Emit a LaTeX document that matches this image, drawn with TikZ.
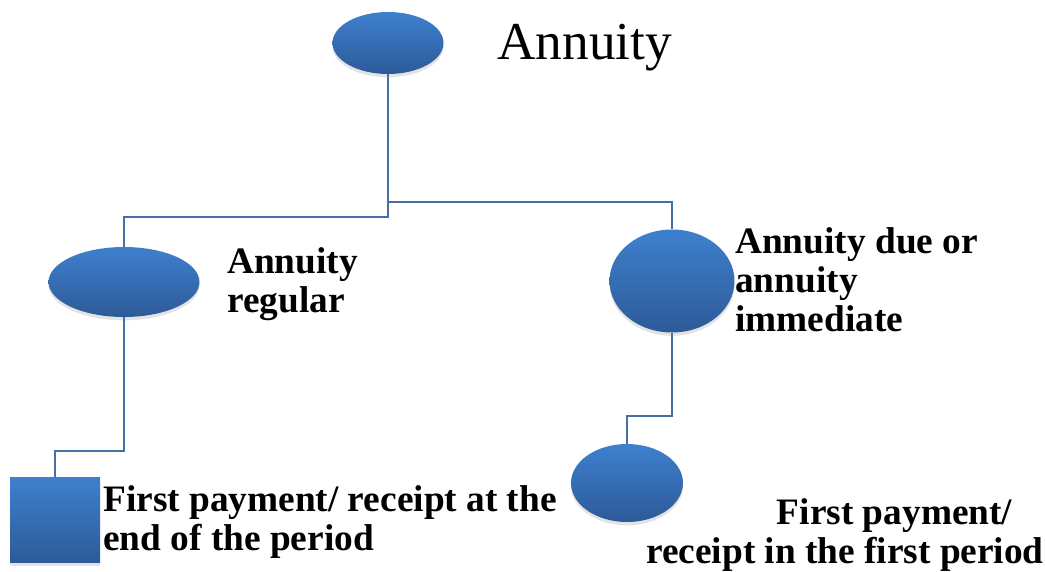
\documentclass[tikz,border=0pt]{standalone}
\usepackage{fontspec}
\setmainfont{Liberation Serif}
\usetikzlibrary{positioning, shapes.geometric, shadows}
\definecolor{blobtop}{RGB}{62,128,206}
\definecolor{blobbot}{RGB}{45,90,152}
\definecolor{wire}{RGB}{72,110,166}

\begin{document}
\begin{tikzpicture}[x=0.75pt, y=-0.75pt,
    blob/.style={ellipse, inner sep=0pt, draw=none,
        top color=blobtop, bottom color=blobbot,
        drop shadow={opacity=0.22, shadow xshift=0pt, shadow yshift=-2.5pt}},
    tile/.style={rectangle, inner sep=0pt, draw=none,
        top color=blobtop, bottom color=blobbot,
        drop shadow={opacity=0.22, shadow xshift=0pt, shadow yshift=-2.5pt}},
    link/.style={draw=wire, line width=1.3pt},
    lbl/.style={font=\fontsize{28}{29}\selectfont\bfseries, align=left, inner sep=0pt, anchor=base west}]

    \useasboundingbox (0,0) rectangle (1045,571);

    % shapes
    \node[blob, minimum width=83.25pt, minimum height=46.5pt] (annuity) at (388,43) {};
    \node[blob, minimum width=113.25pt, minimum height=52.5pt] (regular) at (124,282) {};
    \node[blob, minimum width=93.75pt, minimum height=77.25pt] (due) at (672,281) {};
    \node[tile, minimum width=67.5pt, minimum height=63.75pt] (endbox) at (55,520) {};
    \node[blob, minimum width=84pt, minimum height=58.5pt] (firstblob) at (627,483) {};

    % labels (base = last line)
    \node[font=\fontsize{40}{42}\selectfont, inner sep=0pt, anchor=base west] (annuitytxt) at (497,59) {Annuity};
    \node[lbl] (regulartxt) at (227,312) {Annuity\\regular};
    \node[lbl] (duetxt) at (735,331) {Annuity due or\\annuity\\immediate};
    \node[lbl] (endtxt) at (103,550) {First payment/ receipt at the\\end of the period};
    \node[lbl] (firsttxt) at (646,563) {\hspace*{98pt}First payment/\\receipt in the first period};

    % connectors
    \coordinate (fork) at (388,202);
    \draw[link] (annuity.south) -- (annuity.south |- 0,217) -| (regular.north);
    \draw[link] (fork) -| (due.north);
    \draw[link] (regular.south) -- (regular.south |- 0,451) -| (endbox.north);
    \draw[link] (due.south) -- (due.south |- 0,416) -| (firstblob.north);
\end{tikzpicture}
\end{document}
